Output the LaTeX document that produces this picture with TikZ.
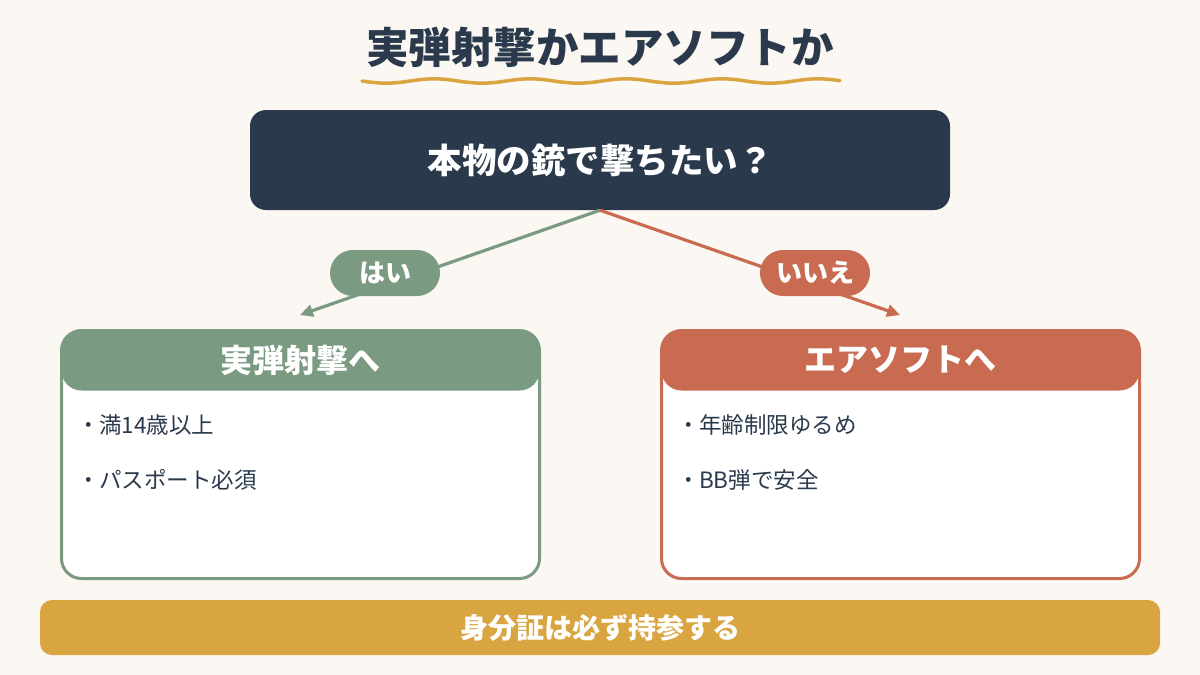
\documentclass[tikz,border=0pt]{standalone}
\usepackage{fontspec}
\setmainfont{Noto Sans CJK JP}
\usetikzlibrary{arrows.meta}
\definecolor{bg}{HTML}{FBF7F2}
\definecolor{navy}{HTML}{2A3A4C}
\definecolor{sage}{HTML}{7B9A82}
\definecolor{terra}{HTML}{C86B51}
\definecolor{gold}{HTML}{D9A540}
\newcommand{\bdot}{\makebox[21pt][c]{・}}
\tikzset{
  card/.style={draw=#1, line width=3pt, fill=white, rounded corners=20pt,
    minimum width=478pt, minimum height=248pt, inner sep=0pt,
    path picture={\fill[#1] (path picture bounding box.north west) rectangle ([yshift=-60pt]path picture bounding box.north east);}},
  cardhead/.style={text=white, font=\fontsize{32}{38}\selectfont\bfseries},
  bullet/.style={anchor=west, inner sep=0pt, text=navy, font=\fontsize{22.5}{28}\selectfont},
  pill/.style={fill=#1, rounded corners=23pt, minimum width=110pt, minimum height=46pt, inner sep=0pt,
    text=white, font=\fontsize{26}{30}\selectfont\bfseries},
  branch/.style={draw=#1, line width=3.2pt, -{Triangle[length=13pt,width=12pt]}}
}
\begin{document}
\begin{tikzpicture}[x=1pt,y=-1pt]
\fill[bg] (0,0) rectangle (1200,675);
\useasboundingbox (0,0) rectangle (1200,675);
% title
\node[font=\fontsize{42.5}{50}\selectfont\bfseries, text=navy] (title) at (600,47) {実弾射撃かエアソフトか};
\draw[gold, line width=3.5pt, line cap=round] plot[domain=362:840, samples=120, smooth] (\x, {81+2.2*sin((\x-362)*3.75)});
% question
\node[fill=navy, rounded corners=16pt, minimum width=700pt, minimum height=100pt, inner sep=0pt,
  text=white, font=\fontsize{34.5}{40}\selectfont\bfseries] (q) at (600,160) {本物の銃で撃ちたい？};
% cards
\node[card=sage] (L) at (300.5,454.5) {};
\node[cardhead] (Lh) at (300.5,360) {実弾射撃へ};
\node[bullet] (L1) at (78,425) {\bdot 満14歳以上};
\node[bullet] (L2) at (78,480) {\bdot パスポート必須};
\node[card=terra] (R) at (900.5,454.5) {};
\node[cardhead] (Rh) at (900.5,360) {エアソフトへ};
\node[bullet] (R1) at (678,425) {\bdot 年齢制限ゆるめ};
\node[bullet] (R2) at (678,480) {\bdot BB弾で安全};
% branches
\coordinate (ly) at (300,315);
\coordinate (ry) at (900,315);
\draw[branch=sage] (q.south) -- (ly);
\draw[branch=terra] (q.south) -- (ry);
\node[pill=sage] (yes) at (385,273) {はい};
\node[pill=terra] (no) at (815,273) {いいえ};
% note
\node[fill=gold, rounded corners=12pt, minimum width=1120pt, minimum height=55pt, inner sep=0pt,
  text=white, font=\fontsize{28}{32}\selectfont\bfseries] (note) at (600,627.5) {身分証は必ず持参する};
\end{tikzpicture}
\end{document}
